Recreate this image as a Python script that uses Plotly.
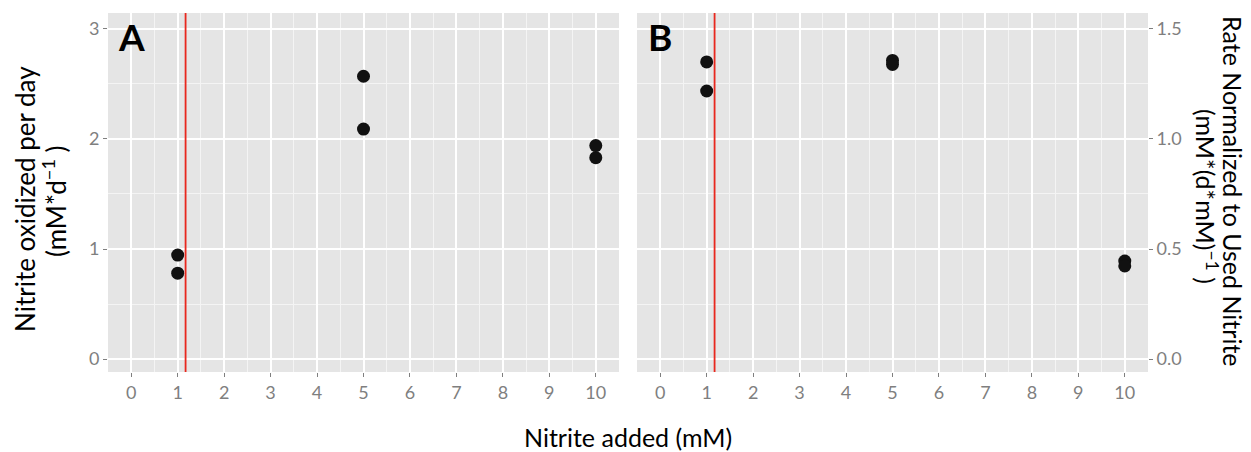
import plotly.graph_objects as go

# Data
x_added_a = [1, 1, 5, 5, 10, 10]
rate_a = [0.945, 0.78, 2.57, 2.09, 1.94, 1.83]
x_added_b = [1, 1, 5, 5, 10, 10]
rate_b = [1.35, 1.218, 1.357, 1.339, 0.445, 0.423]
threshold = 1.17
x_ticks = [0, 1, 2, 3, 4, 5, 6, 7, 8, 9, 10]
y_ticks_a = [0, 1, 2, 3]
y_ticks_b = [0.0, 0.5, 1.0, 1.5]

FONT = "Lato"
BG = "#E5E5E5"
GREY = "#7F7F7F"
MINOR = "#F4F4F4"
TS = 25

fig = go.Figure()
fig.add_trace(go.Scatter(x=x_added_a, y=rate_a, mode="markers",
                         marker=dict(size=13, color="#111111"),
                         xaxis="x", yaxis="y", showlegend=False))
fig.add_trace(go.Scatter(x=x_added_b, y=rate_b, mode="markers",
                         marker=dict(size=13, color="#111111"),
                         xaxis="x2", yaxis="y2", showlegend=False))

L, R, T, B = 108, 103, 13, 80
W, H = 1251, 452
pw = W - L - R
ph = H - T - B
dom_a = [0, 511 / pw]
dom_b = [529 / pw, 1]


def px(xp):
    return (xp - L) / pw


def py(yp):
    return (H - B - yp) / ph


common_x = dict(range=[-0.5, 10.5], tickvals=x_ticks, ticks="outside", ticklen=4,
                tickwidth=1.3, tickcolor=GREY, showgrid=True, gridcolor="white",
                gridwidth=1.8, zeroline=False, showline=False,
                tickfont=dict(family=FONT, size=18, color=GREY),
                minor=dict(dtick=0.5, tick0=0.5, showgrid=True, gridcolor=MINOR,
                           gridwidth=1, ticks=""))
common_y = dict(ticks="outside", ticklen=4, tickwidth=1.3, tickcolor=GREY,
                showgrid=True, gridcolor="white", gridwidth=1.8, zeroline=False,
                showline=False, tickfont=dict(family=FONT, size=18, color=GREY))

title_font = dict(family=FONT, size=TS, color="black")

fig.update_layout(
    width=W, height=H,
    margin=dict(l=L, r=R, t=T, b=B),
    paper_bgcolor="white", plot_bgcolor=BG,
    font=dict(family=FONT),
    xaxis=dict(domain=dom_a, anchor="y", **common_x),
    xaxis2=dict(domain=dom_b, anchor="y2", **common_x),
    yaxis=dict(domain=[0, 1], anchor="x", range=[-0.118, 3.145], tickvals=y_ticks_a,
               ticktext=[str(v) for v in y_ticks_a],
               minor=dict(dtick=0.5, tick0=0.5, showgrid=True, gridcolor=MINOR,
                          gridwidth=1, ticks=""),
               **common_y),
    yaxis2=dict(domain=[0, 1], anchor="x2", side="right", range=[-0.059, 1.5725],
                tickvals=y_ticks_b, ticktext=[f"{v:.1f}" for v in y_ticks_b],
                minor=dict(dtick=0.25, tick0=0.25, showgrid=True, gridcolor=MINOR,
                           gridwidth=1, ticks=""),
                **common_y),
    shapes=[
        dict(type="line", xref="x", yref="y domain", x0=threshold, x1=threshold,
             y0=0, y1=1, line=dict(color="#E8281E", width=1.8)),
        dict(type="line", xref="x2", yref="y2 domain", x0=threshold, x1=threshold,
             y0=0, y1=1, line=dict(color="#E8281E", width=1.8)),
    ],
    annotations=[
        dict(text="<b>A</b>", x=0, y=2.93, xref="x", yref="y", showarrow=False,
             font=dict(family=FONT, size=37, color="black")),
        dict(text="<b>B</b>", x=0, y=1.465, xref="x2", yref="y2", showarrow=False,
             font=dict(family=FONT, size=37, color="black")),
        dict(text="Nitrite added (mM)", x=px(627.5), y=py(437), xref="paper",
             yref="paper", showarrow=False, xanchor="center", yanchor="middle",
             font=title_font),
        dict(text="Nitrite oxidized per day", x=px(25), y=py(199), xref="paper",
             yref="paper", showarrow=False, textangle=-90, xanchor="center",
             yanchor="middle", font=dict(family=FONT, size=26, color="black")),
        dict(text="(mM*d<sup>−1</sup> )", x=px(54), y=py(201), xref="paper",
             yref="paper", showarrow=False, textangle=-90, xanchor="center",
             yanchor="middle", font=dict(family=FONT, size=26, color="black")),
        dict(text="Rate Normalized to Used Nitrite", x=px(1233), y=py(191),
             xref="paper", yref="paper", showarrow=False, textangle=90,
             xanchor="center", yanchor="middle", font=title_font),
        dict(text="(mM*(d*mM)<sup>−1</sup> )", x=px(1207), y=py(196),
             xref="paper", yref="paper", showarrow=False, textangle=90,
             xanchor="center", yanchor="middle", font=title_font),
    ],
)

fig.write_html("out.html")
